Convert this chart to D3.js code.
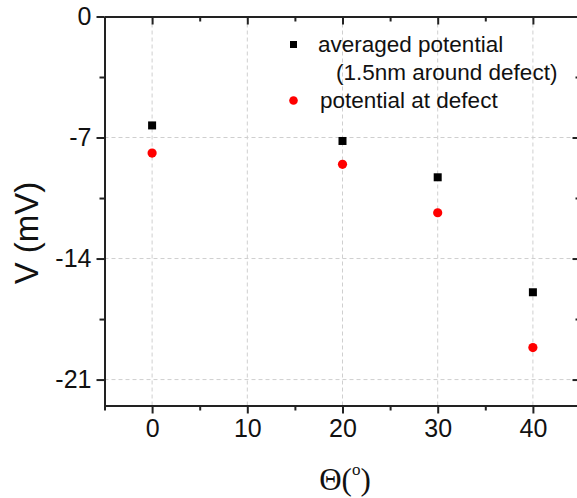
<!DOCTYPE html>
<html>
<head>
<meta charset="utf-8">
<script src="https://cdn.jsdelivr.net/npm/d3@7/dist/d3.min.js"></script>
<style>
  html, body { margin: 0; padding: 0; background: #fff; }
  svg { display: block; }
  text { font-family: Arial, "Liberation Sans", sans-serif; fill: #111; }
</style>
</head>
<body>
<svg id="chart" width="577" height="498"></svg>
<script>
// Twist angle (degrees) and measured potentials (mV)
const angles = [0, 20, 30, 40];
const averagedPotential = [-6.3, -7.2, -9.3, -15.95];
const potentialAtDefect = [-7.9, -8.55, -11.35, -19.15];

const xMajorTicks = [0, 10, 20, 30, 40];
const xMinorTicks = [-5, 5, 15, 25, 35, 45];
const yMajorTicks = [0, -7, -14, -21];
const yMinorTicks = [-3.5, -10.5, -17.5];
const gridX = [0, 10, 20, 30, 40];
const gridY = [-7, -14, -21];

const legendLabels = ["averaged potential", "(1.5nm around defect)", "potential at defect"];

const svg = d3.select("#chart");

const pLeft = 104.5, pRight = 580.5, pTop = 16.5, pBottom = 405.5;
const x = d3.scaleLinear().domain([-5, 45]).range([pLeft, pRight]);
const y = d3.scaleLinear().domain([0, -22.5]).range([pTop, pBottom]);

// plain hyphen-minus for negative tick labels
const plainFormat = d => String(d);

// dashed grid
const grid = svg.append("g").attr("stroke", "#cfcfcf").attr("stroke-width", 1)
  .attr("stroke-dasharray", "4,3");
grid.selectAll("line.gx").data(gridX).join("line").attr("class", "gx")
  .attr("x1", d => x(d)).attr("x2", d => x(d))
  .attr("y1", pTop).attr("y2", pBottom);
grid.selectAll("line.gy").data(gridY).join("line").attr("class", "gy")
  .attr("x1", pLeft).attr("x2", pRight)
  .attr("y1", d => y(d)).attr("y2", d => y(d));

// axes
const axisColor = "#222";
function styleAxis(g) {
  g.select(".domain").attr("stroke", axisColor).attr("stroke-width", 2);
  g.selectAll(".tick line").attr("stroke", axisColor).attr("stroke-width", 2);
  g.selectAll(".tick text").style("font-size", "25px").attr("fill", "#111");
}
function minorTicks(g) {
  g.select(".domain").remove();
  g.selectAll(".tick line").attr("stroke", axisColor).attr("stroke-width", 2);
}

// bottom: outward ticks with labels
const bottomAxis = svg.append("g").attr("transform", `translate(0,${pBottom})`)
  .call(d3.axisBottom(x).tickValues(xMajorTicks).tickSize(8).tickSizeOuter(0).tickFormat(plainFormat));
styleAxis(bottomAxis);
bottomAxis.selectAll(".tick text").attr("dy", "0.71em").attr("y", 14);
svg.append("g").attr("transform", `translate(0,${pBottom})`)
  .call(d3.axisBottom(x).tickValues(xMinorTicks).tickSize(5).tickSizeOuter(0).tickFormat(""))
  .call(minorTicks);

// top: inward ticks, no labels
const topAxis = svg.append("g").attr("transform", `translate(0,${pTop})`)
  .call(d3.axisTop(x).tickValues(xMajorTicks).tickSize(-8).tickSizeOuter(0).tickFormat(""));
styleAxis(topAxis);
svg.append("g").attr("transform", `translate(0,${pTop})`)
  .call(d3.axisTop(x).tickValues(xMinorTicks).tickSize(-5).tickSizeOuter(0).tickFormat(""))
  .call(minorTicks);

// left: outward ticks with labels
const leftAxis = svg.append("g").attr("transform", `translate(${pLeft},0)`)
  .call(d3.axisLeft(y).tickValues(yMajorTicks).tickSize(8).tickSizeOuter(0).tickPadding(5).tickFormat(plainFormat));
styleAxis(leftAxis);
svg.append("g").attr("transform", `translate(${pLeft},0)`)
  .call(d3.axisLeft(y).tickValues(yMinorTicks).tickSize(5).tickSizeOuter(0).tickFormat(""))
  .call(minorTicks);

// right: inward ticks, no labels
const rightAxis = svg.append("g").attr("transform", `translate(${pRight},0)`)
  .call(d3.axisRight(y).tickValues(yMajorTicks).tickSize(-8).tickSizeOuter(0).tickFormat(""));
styleAxis(rightAxis);
svg.append("g").attr("transform", `translate(${pRight},0)`)
  .call(d3.axisRight(y).tickValues(yMinorTicks).tickSize(-5).tickSizeOuter(0).tickFormat(""))
  .call(minorTicks);

// series: black squares and red circles
const sq = 8;
svg.append("g").selectAll("rect").data(angles).join("rect")
  .attr("x", d => x(d) - sq / 2)
  .attr("y", (d, i) => y(averagedPotential[i]) - sq / 2)
  .attr("width", sq).attr("height", sq).attr("fill", "#000");

svg.append("g").selectAll("circle").data(angles).join("circle")
  .attr("cx", d => x(d))
  .attr("cy", (d, i) => y(potentialAtDefect[i]))
  .attr("r", 4.6).attr("fill", "#ff0000");

// legend
const lg = svg.append("g");
lg.append("rect").attr("x", 290).attr("y", 41).attr("width", 7).attr("height", 7).attr("fill", "#000");
lg.append("text").attr("x", 318).attr("y", 52).style("font-size", "22.5px").text(legendLabels[0]);
lg.append("text").attr("x", 336).attr("y", 80).style("font-size", "22.5px").text(legendLabels[1]);
lg.append("circle").attr("cx", 293.5).attr("cy", 100.5).attr("r", 4.3).attr("fill", "#ff0000");
lg.append("text").attr("x", 320).attr("y", 108).style("font-size", "22.5px").text(legendLabels[2]);

// axis titles
svg.append("text")
  .attr("transform", "translate(38,233) rotate(-90)")
  .attr("text-anchor", "middle")
  .style("font-size", "33px")
  .text("V (mV)");

const xt = svg.append("text")
  .attr("x", 345).attr("y", 490)
  .attr("text-anchor", "middle")
  .style("font-family", "'Liberation Serif', 'Times New Roman', serif")
  .style("font-size", "31px");
xt.append("tspan").text("Θ(");
xt.append("tspan").attr("dy", -15).style("font-size", "17px").text("o");
xt.append("tspan").attr("dy", 15).text(")");
</script>
</body>
</html>
